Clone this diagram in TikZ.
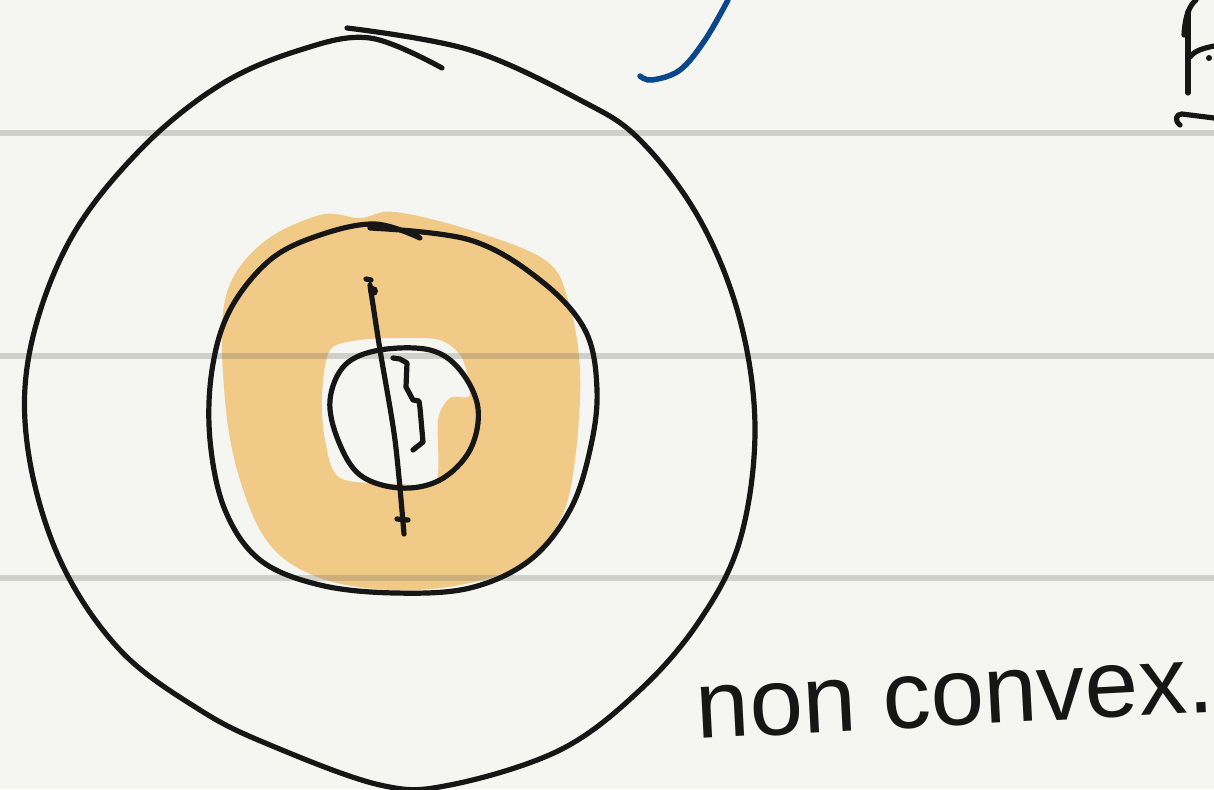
\documentclass[tikz,border=0pt]{standalone}
\usepackage{fontspec}
\setmainfont{Liberation Sans}
\usepackage{tikz}
\usetikzlibrary{backgrounds}
\usepackage{xcolor}
\definecolor{paper}{HTML}{F5F6F1}
\definecolor{ruling}{HTML}{5F5F55}
\definecolor{highlight}{HTML}{F1CA88}
\definecolor{ink}{HTML}{161616}
\definecolor{bluepen}{HTML}{0A478C}

\begin{document}
\begin{tikzpicture}[
    x=1pt, y=-1pt,
    pen/.style={ink, line width=5.2pt, line cap=round, line join=round},
    rule/.style={ruling, opacity=0.25, line width=6pt}
]
    \useasboundingbox (0,0) rectangle (1214,789);
    \fill[paper] (0,0) rectangle (1214,789);

	% highlighted ring
	\fill[highlight, even odd rule]
	    plot[smooth cycle, tension=0.6] coordinates {(225,300) (260,245) (320,215) (360,218) (395,212) (470,230) (545,260) (568,300) (580,370) (575,460) (560,520) (520,565) (460,585) (390,590) (320,578) (270,545) (240,480) (225,400)}
	    plot[smooth cycle, tension=0.5] coordinates {(330,350) (360,340) (400,338) (440,340) (462,358) (470,395) (450,398) (438,420) (436,482) (400,484) (340,478) (325,440) (322,395)};

	\foreach \y in {133,356,578} {
        \draw[rule] (0,\y) -- (1214,\y);
    }

	% outer set
	\draw[pen] plot[smooth, tension=0.6] coordinates {(347,28) (470,50) (580,100) (640,140) (700,220) (740,320) (755,430) (740,540) (700,620) (640,690) (560,750) (450,785) (380,785) (270,745) (200,710) (120,650) (60,560) (28,450) (30,350) (70,240) (140,150) (220,85) (300,50) (370,38) (442,68)};

	% middle set
	\draw[pen] plot[smooth, tension=0.6] coordinates {(370,228) (470,240) (540,280) (585,330) (597,390) (590,450) (570,510) (530,560) (470,588) (395,593) (320,585) (260,560) (225,510) (210,440) (212,370) (230,310) (270,260) (320,235) (375,224) (420,238)};

	% hole
	\draw[pen] plot[smooth cycle, tension=0.6] coordinates {(380,350) (430,350) (460,370) (478,408) (470,450) (440,480) (400,488) (360,475) (338,440) (330,400) (345,365)};

	% segment and squiggle
	\draw[pen] (366,279) -- (371,280) plot[smooth] coordinates {(370,285) (380,350) (395,440) (404,534)};
	\fill[ink] (373,291) circle (5pt);
	\draw[pen] (397,519) -- (408,520);
	\draw[pen] (393,358) -- (400,359) -- (407,363) -- (406,387) -- (413,400) -- (419,401) -- (420,408) -- (423,442) -- (413,450);

	\draw[bluepen, line width=5.5pt, line cap=round] plot[smooth, tension=0.6] coordinates {(640,76) (652,80) (680,70) (705,40) (728,0)};

	% cut off letter at the edge
	\draw[pen] (1188,12) -- (1188,93);
	\draw[pen] (1184,35) .. controls (1185,15) and (1190,5) .. (1196,0);
	\draw[pen] (1190,57) .. controls (1195,50) and (1205,48) .. (1214,46);
	\fill[ink] (1209,58) circle (3pt);
	\draw[pen] (1180,125) .. controls (1174,120) and (1176,114) .. (1182,114) -- (1214,118);

	\node[ink, font=\fontsize{96}{100}\selectfont, rotate=3] (label) at (955,700) {non convex.};
\end{tikzpicture}
\end{document}
